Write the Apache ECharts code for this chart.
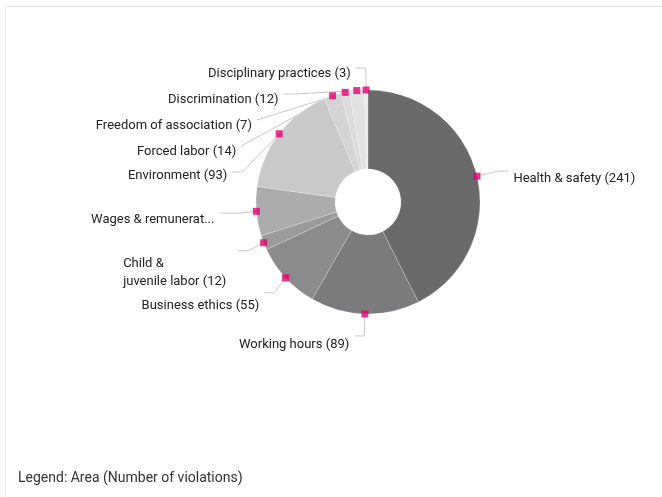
<!DOCTYPE html>
<html>
<head>
<meta charset="utf-8">
<script src="https://cdn.jsdelivr.net/npm/echarts@6/dist/echarts.min.js"></script>
<style>
  html, body { margin: 0; padding: 0; background: #fff; }
  #chart { width: 662px; height: 497px; }
</style>
</head>
<body>
<div id="chart"></div>
<script>
const categories = [
  'Health & safety', 'Working hours', 'Business ethics', 'Child & juvenile labor',
  'Wages & remuneration', 'Environment', 'Forced labor', 'Freedom of association',
  'Discrimination', 'Disciplinary practices'
];
const violations = [241, 89, 55, 12, 40, 93, 14, 7, 12, 3];
const sliceColors = ['#6a6a6c', '#7b7b7d', '#8b8b8d', '#9b9b9d', '#acacae',
  '#c9c9c9', '#d4d4d4', '#dbdbdb', '#e2e2e2', '#eaeaea'];
const legendText = 'Legend: Area (Number of violations)';

const total = violations.reduce((a, b) => a + b, 0);
const mids = [];
let acc = 0;
violations.forEach(v => { mids.push(acc + v / 2); acc += v; });

const CX = 368, CY = 202, R_IN = 33, R_OUT = 112;
const FONT = 'Roboto';
// small per-label vertical nudges (style only)
const labelNudge = [8, 9, 13, 22, 7, 4, 6, 6, 6, 6];

const chart = echarts.init(document.getElementById('chart'));
chart.setOption({
  animation: false,
  backgroundColor: '#fff',
  textStyle: { fontFamily: FONT },
  graphic: [
    { type: 'line', shape: { x1: 5.5, y1: 6.5, x2: 662, y2: 6.5 }, style: { stroke: '#e6e6e6', lineWidth: 1 } },
    { type: 'line', shape: { x1: 5.5, y1: 6.5, x2: 5.5, y2: 497 }, style: { stroke: '#e6e6e6', lineWidth: 1 } },
    { type: 'text', left: 18, top: 471, style: { text: legendText, fill: '#333', font: '14px ' + FONT } }
  ],
  polar: { center: [CX, CY], radius: R_OUT },
  angleAxis: { type: 'value', min: 0, max: total, startAngle: 90, clockwise: true, show: false },
  radiusAxis: { type: 'value', min: 0, max: 1, show: false },
  series: [
    {
      type: 'pie',
      center: [CX, CY],
      radius: [R_IN, R_OUT],
      startAngle: 90,
      clockwise: true,
      avoidLabelOverlap: true,
      itemStyle: { borderColor: 'rgba(255,255,255,0.35)', borderWidth: 0.6 },
      label: {
        show: true,
        position: 'outside',
        color: '#222',
        fontSize: 13,
        fontFamily: FONT,
        lineHeight: 16,
        padding: [4, 0],
        formatter: p => p.name + ' (' + p.value + ')'
      },
      labelLine: { show: true, length: 22, length2: 10, lineStyle: { color: '#c8c8c8', width: 1 } },
      labelLayout: p => ({ dy: labelNudge[p.dataIndex] }),
      data: categories.map((c, i) => {
        const d = { name: c, value: violations[i], itemStyle: { color: sliceColors[i] } };
        if (i === 4) {
          d.label = { width: 126, overflow: 'truncate' };
          d.labelLine = { length2: 20 };
        }
        if (i === 3) d.label = {
          formatter: p => '{a|Child &}\n{a|juvenile labor (' + p.value + ')}',
          rich: { a: { width: 110, align: 'left', fontSize: 13, lineHeight: 18, color: '#222', fontFamily: FONT } }
        };
        return d;
      })
    },
    {
      type: 'scatter',
      coordinateSystem: 'polar',
      symbol: 'rect',
      symbolSize: 7,
      itemStyle: { color: '#e20074' },
      z: 5,
      data: mids.map(m => [1, m])
    }
  ]
});
</script>
</body>
</html>
